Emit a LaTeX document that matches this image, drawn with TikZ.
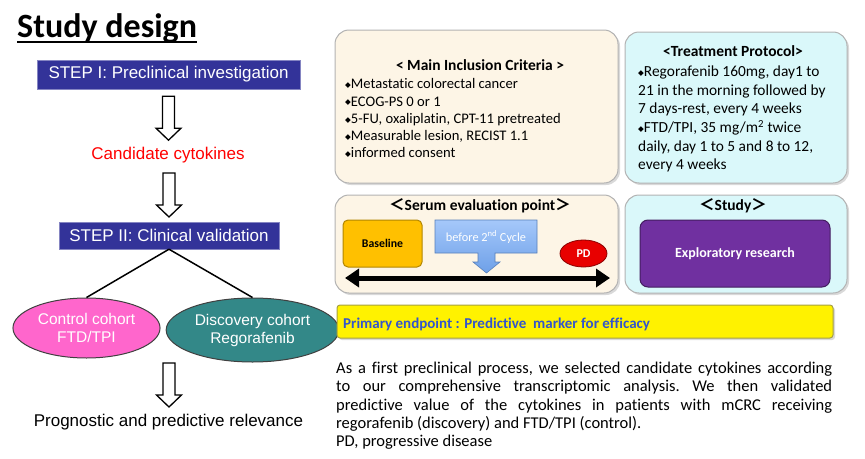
\documentclass[tikz,border=0pt]{standalone}
\usepackage{fontspec}
\setmainfont{Carlito}[Ligatures=NoCommon]
\newfontfamily\helv{Liberation Sans}
\newfontfamily\symfont{DejaVu Sans}
\newfontfamily\cjk{Noto Sans CJK JP}
\usepackage{xcolor}
\usetikzlibrary{shapes.geometric,arrows.meta,shadows}

\definecolor{stepblue}{RGB}{51,51,153}
\definecolor{ctrlpink}{RGB}{255,102,204}
\definecolor{discteal}{RGB}{51,136,136}
\definecolor{beige}{RGB}{253,245,230}
\definecolor{palecyan}{RGB}{218,248,250}
\definecolor{gold}{RGB}{255,192,0}
\definecolor{pdred}{RGB}{232,0,0}
\definecolor{exppurple}{RGB}{112,48,160}
\definecolor{endblue}{RGB}{51,85,204}
\definecolor{calltop}{RGB}{165,200,250}
\definecolor{callbot}{RGB}{110,160,232}

\newcommand{\dia}{\raisebox{1.2pt}{\symfont\fontsize{7.5}{7.5}\selectfont ◆}}

\begin{document}
\begin{tikzpicture}[x=1pt,y=-1pt,
    stepbox/.style={draw=stepblue!60!white, fill=stepblue, text=white, inner sep=0pt, font=\helv\fontsize{17}{20}\selectfont},
    plain/.style={font=\helv\fontsize{17}{20}\selectfont},
    cohort/.style={ellipse, draw=black!75, line width=1pt, text=white, align=center, font=\helv\fontsize{15.5}{18}\selectfont},
    panel/.style={rounded corners=14pt, draw=black!30, line width=1pt, drop shadow={opacity=0.3,shadow xshift=2pt,shadow yshift=-2pt}},
    head/.style={font=\bfseries\fontsize{15.5}{18}\selectfont},
    downarr/.pic={\draw[line width=1.3pt,fill=white] (-6,0) -- (6,0) -- (6,32) -- (12.5,32) -- (0,44) -- (-12.5,32) -- (-6,32) -- cycle;}]
    \useasboundingbox (0,0) rectangle (865,458);
    % left column
    \node[anchor=base west, inner sep=0pt, font=\bfseries\fontsize{34}{38}\selectfont] (title) at (17,37) {Study design};
    \draw[line width=2pt] ([yshift=-5pt]title.base west) -- ([yshift=-5pt]title.base east);
    \node[stepbox, minimum width=263pt, minimum height=29pt] (step1) at (168.5,74.5) {STEP I: Preclinical investigation};
    \node[plain, text=red] (cand) at (168,155) {Candidate cytokines};
    \node[stepbox, minimum width=220pt, minimum height=27pt] (step2) at (169,235.5) {STEP II: Clinical validation};
    \node[cohort, fill=ctrlpink, minimum width=147pt, minimum height=60pt] (ctrl) at (86.5,328) {Control cohort\\FTD/TPI};
    \node[cohort, fill=discteal, minimum width=145pt, minimum height=64pt] (disc) at (252.5,330) {Discovery cohort\\Regorafenib};
    \node[plain] (relev) at (168.5,422) {Prognostic and predictive relevance};
    \pic at ([yshift=-7pt]step1.south) {downarr};
    \pic at (169,173) {downarr};
    \pic at (169,363) {downarr};
    \draw[line width=1.5pt] (step2.south) -- (ctrl.north);
    \draw[line width=1.5pt] (step2.south) -- (disc.north);
    % right column panels
    \node[panel, fill=beige, minimum width=283pt, minimum height=153pt] (incl) at (476.5,106.5) {};
    \node[panel, fill=palecyan, minimum width=222pt, minimum height=151pt] (treat) at (736,107.5) {};
    \node[panel, fill=beige, minimum width=283pt, minimum height=98pt] (serum) at (476.5,244) {};
    \node[panel, fill=palecyan, minimum width=222pt, minimum height=98pt] (study) at (736,244) {};
    \node[head, anchor=base] (inclhead) at (480,70) {< Main Inclusion Criteria >};
    \node[anchor=north west, inner sep=0pt, align=left, font=\fontsize{14.6}{17.2}\selectfont] (incllist) at (345,78.5)
      {\dia Metastatic colorectal cancer\\\dia ECOG-PS 0 or 1\\\dia 5-FU, oxaliplatin, CPT-11 pretreated\\\dia Measurable lesion, RECIST 1.1\\\dia informed consent};
    \node[head, anchor=base] (treathead) at (733,56) {<Treatment Protocol>};
    \node[anchor=north west, inner sep=0pt, align=left, font=\fontsize{15.4}{18.7}\selectfont] (treatlist) at (638,65.5)
      {\dia Regorafenib 160mg, day1 to\\21 in the morning followed by\\7 days-rest, every 4 weeks\\\dia FTD/TPI, 35 mg/m\textsuperscript{2} twice\\daily, day 1 to 5 and 8 to 12,\\every 4 weeks};
    \node[head, anchor=base] (serumhead) at (480,210) {{\cjk ＜}Serum evaluation point{\cjk ＞}};
    \node[head, anchor=base] (studyhead) at (733,210) {{\cjk ＜}Study{\cjk ＞}};
    % serum evaluation time line
    \node[rounded corners=5pt, draw=gold!70!black, line width=1pt, fill=gold, minimum width=79pt, minimum height=47pt, font=\bfseries\fontsize{11.8}{14}\selectfont] (base) at (382.5,243.5) {Baseline};
    \shade[top color=calltop, bottom color=callbot, draw=callbot!80!black, line width=0.6pt]
      (435,220) -- (537,220) -- (537,253) -- (495,253) -- (495,262) -- (500,262) -- (486.5,273) -- (473,262) -- (478,262) -- (478,253) -- (435,253) -- cycle;
    \node[text=white, font=\fontsize{12.3}{14}\selectfont] (cycle2) at (486,237) {before 2\textsuperscript{nd} Cycle};
    \node[ellipse, draw=pdred!60!black, line width=0.8pt, fill=pdred, text=white, minimum width=47pt, minimum height=27pt, inner sep=0pt, font=\bfseries\fontsize{12}{14}\selectfont] (pd) at (583.5,253.5) {PD};
    \coordinate (tl) at (345,278);
    \coordinate (tr) at (610,278);
    \draw[line width=5pt, {Triangle[length=14pt,width=18pt]}-{Triangle[length=14pt,width=18pt]}] (tl) -- (tr);
    \node[rounded corners=8pt, draw=exppurple!60!black, line width=1pt, fill=exppurple, text=white, minimum width=190pt, minimum height=67pt, font=\bfseries\fontsize{14}{16}\selectfont] (expl) at (735,253.5) {Exploratory research};
    % endpoint and legend
    \node[rounded corners=3pt, draw=yellow!60!black, line width=1pt, fill=yellow, minimum width=496pt, minimum height=33pt, drop shadow={opacity=0.3,shadow xshift=2pt,shadow yshift=-2pt}] (endp) at (585,321.5) {};
    \node[anchor=base west, inner sep=0pt, text=endblue, font=\bfseries\fontsize{15}{18}\selectfont] (endtext) at (343,328) {Primary endpoint : Predictive\ \ marker for efficacy};
    \node[anchor=north west, inner sep=0pt, text width=496pt, align=justify, font=\fontsize{16.5}{18.3}\selectfont] (legend) at (336,362)
      {\frenchspacing\tolerance=10000\hbadness=10000\hyphenpenalty=10000 As a first preclinical process, we selected candidate cytokines according\linebreak
       to our comprehensive transcriptomic analysis. We then validated\linebreak
       predictive value of the cytokines in patients with mCRC receiving\linebreak
       regorafenib (discovery) and FTD/TPI (control).\\
       PD, progressive disease};
\end{tikzpicture}
\end{document}
